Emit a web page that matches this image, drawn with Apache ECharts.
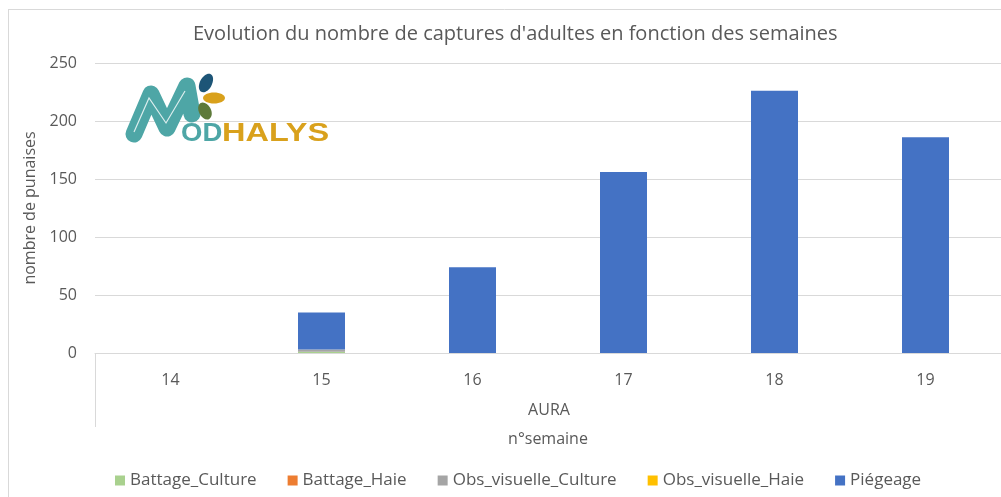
<!DOCTYPE html>
<html>
<head>
<meta charset="utf-8">
<script src="https://cdn.jsdelivr.net/npm/echarts@6/dist/echarts.min.js"></script>
<style>
  html, body { margin: 0; padding: 0; background: #fff; }
  #chart { width: 1001px; height: 497px; }
</style>
</head>
<body>
<div id="chart"></div>
<script>
// semaines (n°semaine), région AURA
var weeks = ["14", "15", "16", "17", "18", "19"];
var battageCulture = [0, 1, 0, 0, 0, 0];
var battageHaie = [0, 0, 0, 0, 0, 0];
var obsVisuelleCulture = [0, 2, 0, 0, 0, 0];
var obsVisuelleHaie = [0, 0, 0, 0, 0, 0];
var piegeage = [0, 32, 74, 156, 226, 186];
var yTicks = [0, 50, 100, 150, 200, 250];

var txt = "#595959";
var font = "'Open Sans', 'Noto Sans', sans-serif";

function serie(name, data, color) {
  return {
    name: name,
    type: "bar",
    stack: "total",
    barWidth: 47,
    itemStyle: { color: color },
    emphasis: { disabled: true },
    data: data
  };
}

// petit logo MODHALYS dessiné à la main
var teal = "#4ea6a6";
var gold = "#d9a11c";
var logo = [
  {
    type: "polyline",
    shape: { points: [[134, 134], [151, 94], [167, 128], [187, 86], [192, 114]] },
    style: { stroke: teal, lineWidth: 17, lineCap: "round", lineJoin: "round", fill: null },
    z: 10
  },
  {
    type: "polyline",
    shape: { points: [[134, 132], [149, 98], [166, 123], [185, 91]] },
    style: { stroke: "#ffffff", lineWidth: 1.2, fill: null, opacity: 0.8 },
    z: 11
  },
  {
    type: "ellipse",
    shape: { cx: 206, cy: 83, rx: 6, ry: 10 },
    rotation: -0.5, originX: 206, originY: 83,
    style: { fill: "#1d5577" },
    z: 10
  },
  {
    type: "ellipse",
    shape: { cx: 214, cy: 98, rx: 11, ry: 5.5 },
    style: { fill: gold },
    z: 10
  },
  {
    type: "ellipse",
    shape: { cx: 205, cy: 111, rx: 6, ry: 9 },
    rotation: 0.5, originX: 205, originY: 111,
    style: { fill: "#5e7a3a" },
    z: 10
  },
  {
    type: "text",
    x: 181, y: 147, scaleX: 1.1,
    style: { text: "OD", fill: teal, fontSize: 25, fontWeight: "bold", fontFamily: "'Liberation Sans', sans-serif", verticalAlign: "bottom" },
    z: 12
  },
  {
    type: "text",
    x: 222, y: 147, scaleX: 1.3,
    style: { text: "HALYS", fill: gold, fontSize: 25, fontWeight: "bold", fontFamily: "'Liberation Sans', sans-serif", verticalAlign: "bottom" },
    z: 12
  }
];

var chart = echarts.init(document.getElementById("chart"), null, { renderer: "canvas" });

var option = {
  animation: false,
  backgroundColor: "#ffffff",
  title: {
    text: "Evolution du nombre de captures d'adultes en fonction des semaines",
    left: 188,
    top: 19,
    textStyle: { color: txt, fontSize: 20, fontWeight: "normal", fontFamily: font }
  },
  grid: { left: 95, right: -1, top: 63, bottom: 144 },
  legend: {
    bottom: 3,
    left: 110,
    itemWidth: 10,
    itemHeight: 10,
    itemGap: 31,
    icon: "rect",
    textStyle: { color: txt, fontSize: 17, fontFamily: font },
    data: ["Battage_Culture", "Battage_Haie", "Obs_visuelle_Culture", "Obs_visuelle_Haie", "Piégeage"]
  },
  xAxis: {
    type: "category",
    data: weeks,
    axisTick: { show: false },
    axisLine: { lineStyle: { color: "#d9d9d9", width: 1 } },
    axisLabel: { color: txt, fontSize: 16, fontFamily: font, margin: 19 },
    name: "n°semaine",
    nameLocation: "middle",
    nameGap: 78,
    nameTextStyle: { color: txt, fontSize: 16, fontFamily: font }
  },
  yAxis: {
    type: "value",
    min: yTicks[0],
    max: yTicks[yTicks.length - 1],
    interval: 50,
    axisLine: { show: false },
    axisTick: { show: false },
    splitLine: { lineStyle: { color: "#d9d9d9", width: 1 } },
    axisLabel: { color: txt, fontSize: 16, fontFamily: font, margin: 18 },
    name: "nombre de punaises",
    nameLocation: "middle",
    nameGap: 49,
    nameTextStyle: { color: txt, fontSize: 16, fontFamily: font }
  },
  graphic: logo.concat([
    { type: "line", shape: { x1: 8.5, y1: 9, x2: 8.5, y2: 497 }, style: { stroke: "#d9d9d9", lineWidth: 1 } },
    { type: "line", shape: { x1: 8, y1: 9.5, x2: 1001, y2: 9.5 }, style: { stroke: "#d9d9d9", lineWidth: 1 } },
    { type: "line", shape: { x1: 95.5, y1: 353, x2: 95.5, y2: 427 }, style: { stroke: "#d9d9d9", lineWidth: 1 } },
    {
      type: "text", x: 549, y: 410,
      style: { text: "AURA", fill: txt, font: "16px " + font, align: "center", verticalAlign: "middle" }
    }
  ]),
  series: [
    serie("Battage_Culture", battageCulture, "#a9d18e"),
    serie("Battage_Haie", battageHaie, "#ed7d31"),
    serie("Obs_visuelle_Culture", obsVisuelleCulture, "#a5a5a5"),
    serie("Obs_visuelle_Haie", obsVisuelleHaie, "#ffc000"),
    serie("Piégeage", piegeage, "#4472c4")
  ]
};

chart.setOption(option);
</script>
</body>
</html>
